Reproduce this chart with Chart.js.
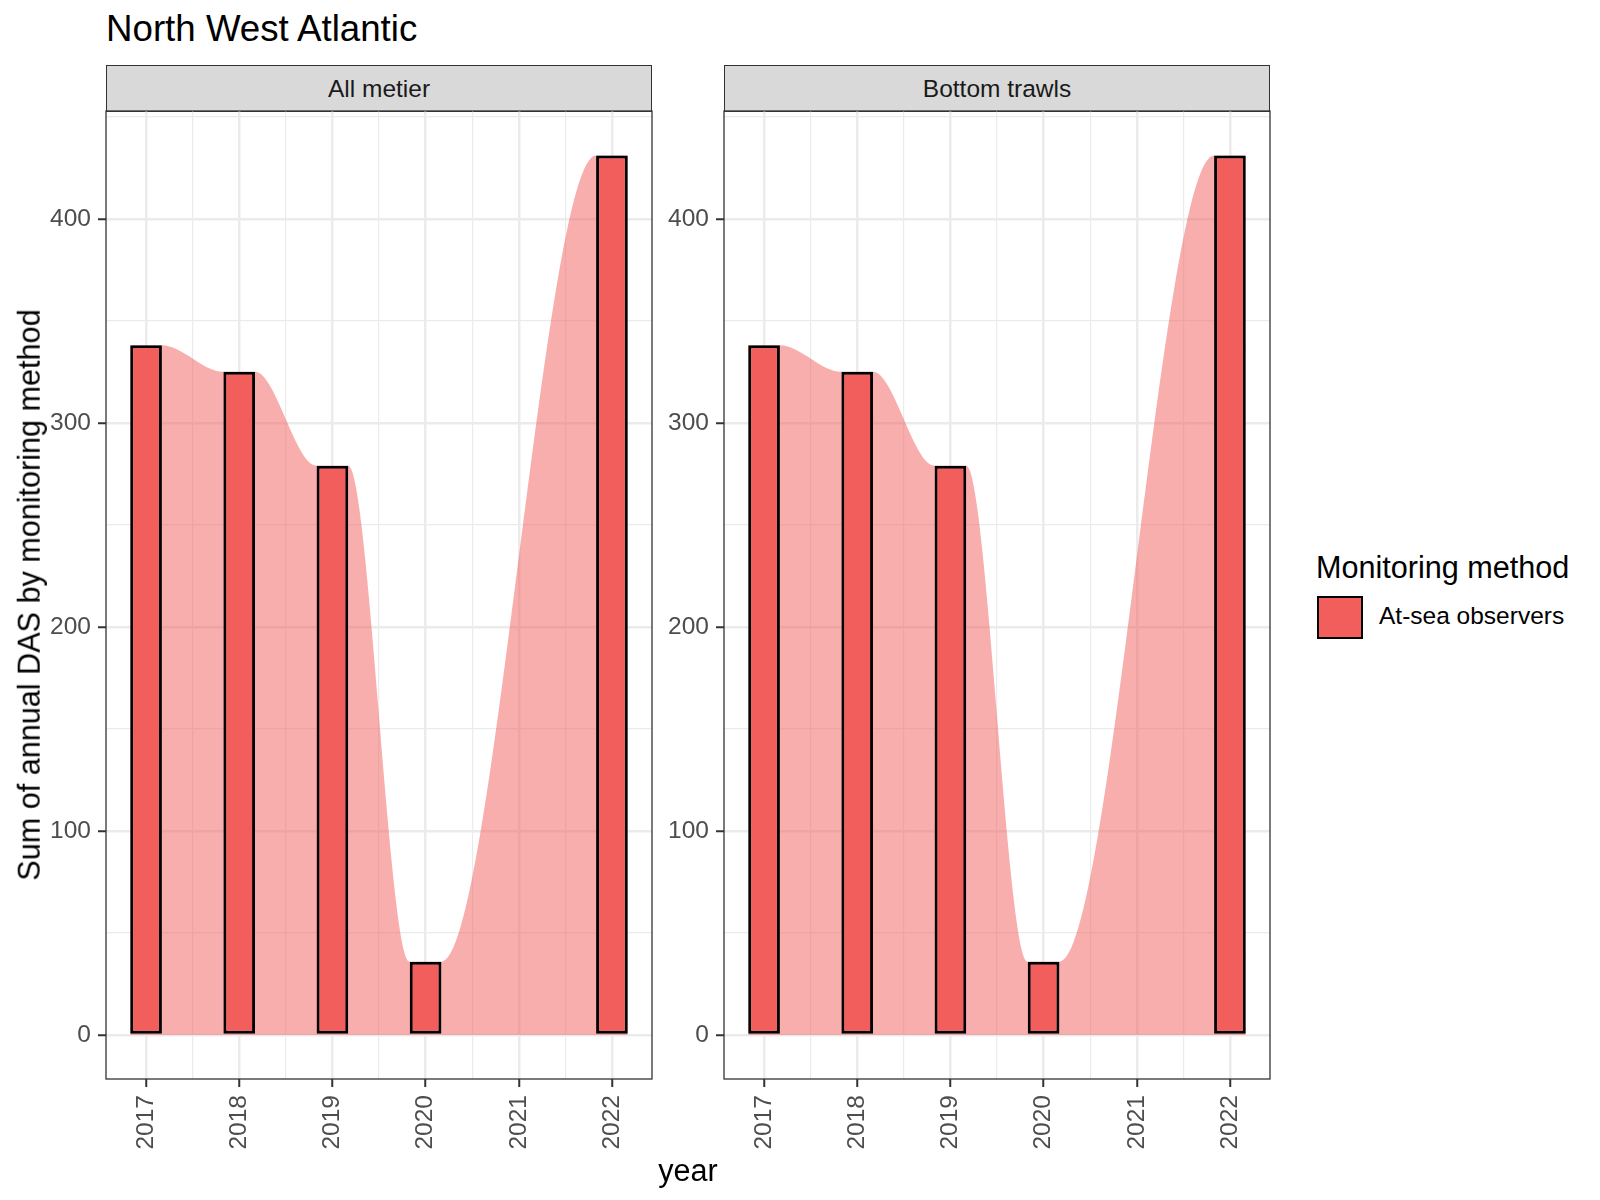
<!DOCTYPE html>
<html>
<head>
<meta charset="utf-8">
<script src="https://cdn.jsdelivr.net/npm/chart.js@4.4.1/dist/chart.umd.min.js"></script>
<style>
  body { margin: 0; background: #fff; font-family: "Liberation Sans", Arial, sans-serif; }
  #page { position: relative; width: 1600px; height: 1200px; overflow: hidden; background: #fff; }
  .abs { position: absolute; white-space: nowrap; line-height: 1; }
  .strip { position: absolute; box-sizing: border-box; background: #D9D9D9; border: 1.3px solid #333;
           color: #1A1A1A; font-size: 24.5px; display: flex; align-items: center; justify-content: center; }
  canvas { position: absolute; }
</style>
</head>
<body>
<div id="page">
  <div class="abs" style="left:106px;top:11px;font-size:36.7px;color:#000;">North West Atlantic</div>

  <div class="strip" style="left:106px;top:65px;width:546px;height:47px;">All metier</div>
  <div class="strip" style="left:724px;top:65px;width:546px;height:47px;">Bottom trawls</div>

  <canvas id="panel1" width="630" height="1090" style="left:30px;top:100px;"></canvas>
  <canvas id="panel2" width="630" height="1090" style="left:648px;top:100px;"></canvas>

  <div class="abs" style="left:28.6px;top:595px;font-size:30.6px;transform:translate(-50%,-50%) rotate(-90deg);">Sum of annual DAS by monitoring method</div>
  <div class="abs" style="left:688px;top:1170px;font-size:30.6px;transform:translate(-50%,-50%);">year</div>

  <!-- legend -->
  <div class="abs" style="left:1316px;top:552px;font-size:30.6px;">Monitoring method</div>
  <div class="abs" style="left:1317px;top:596px;width:46px;height:43px;box-sizing:border-box;background:#F25E5B;border:2.5px solid #000;"></div>
  <div class="abs" style="left:1379px;top:604px;font-size:24.5px;">At-sea observers</div>
</div>

<script>
// data
const years = [2017, 2018, 2019, 2020, 2022];
const allMetierDas = [338, 325, 279, 36, 431];
const bottomTrawlsDas = [338, 325, 279, 36, 431];

const yearTicks = [2017, 2018, 2019, 2020, 2021, 2022];
const yearMinorTicks = [2017.5, 2018.5, 2019.5, 2020.5, 2021.5];
const dasTicks = [0, 50, 100, 150, 200, 250, 300, 350, 400, 450];

const BAR_W = 0.34;
const X_MIN = 2016.57, X_MAX = 2022.43;
const Y_MIN = -21.5, Y_MAX = 452.8;

const FONT = '"Liberation Sans", Arial, sans-serif';
const BAR_COL = '#F25E5B';
const AREA_COL = 'rgba(242,94,91,0.5)';
const GRID = '#EBEBEB';

// smooth area runs from bar edge to bar edge
function edgePoints(xs, vs) {
  const pts = [];
  xs.forEach((x, i) => {
    pts.push({ x: x - BAR_W / 2, y: vs[i] });
    pts.push({ x: x + BAR_W / 2, y: vs[i] });
  });
  return pts;
}

const panelBorder = {
  id: 'panelBorder',
  afterDraw(chart) {
    const { ctx, chartArea: a } = chart;
    ctx.save();
    ctx.strokeStyle = '#333333';
    ctx.lineWidth = 1.3;
    ctx.strokeRect(a.left, a.top, a.right - a.left, a.bottom - a.top);
    ctx.restore();
  }
};

function noPad(s) { s.paddingTop = 0; s.paddingBottom = 0; s.paddingLeft = 0; s.paddingRight = 0; }

function makePanel(id, values) {
  new Chart(document.getElementById(id), {
    type: 'bar',
    data: {
      datasets: [
        {
          type: 'bar',
          data: years.map((x, i) => ({ x: x, y: values[i] })),
          xAxisID: 'x',
          backgroundColor: BAR_COL,
          borderColor: '#000',
          borderWidth: 3,
          borderSkipped: false,
          grouped: false,
          barPercentage: BAR_W,
          categoryPercentage: 1,
          order: 0
        },
        {
          type: 'line',
          data: edgePoints(years, values),
          xAxisID: 'xa',
          fill: 'origin',
          backgroundColor: AREA_COL,
          borderWidth: 0,
          pointRadius: 0,
          cubicInterpolationMode: 'monotone',
          order: 1
        }
      ]
    },
    options: {
      responsive: false,
      animation: false,
      events: [],
      layout: { padding: { top: 11, right: 8, bottom: 0, left: 0 } },
      plugins: { legend: { display: false }, tooltip: { enabled: false } },
      scales: {
        x: {
          type: 'linear', position: 'bottom', min: X_MIN, max: X_MAX, offset: false,
          afterBuildTicks: s => { s.ticks = yearTicks.map(v => ({ value: v })); },
          afterFit: s => { s.height = 111; noPad(s); },
          ticks: {
            autoSkip: false, minRotation: 90, maxRotation: 90, padding: 8,
            color: '#4D4D4D', font: { family: FONT, size: 24.5 },
            callback: v => String(v)
          },
          grid: { offset: false, color: GRID, lineWidth: 2.5, tickLength: 8, tickColor: '#333333', tickWidth: 2 },
          border: { display: false }
        },
        xa: {
          type: 'linear', position: 'bottom', min: X_MIN, max: X_MAX, offset: false,
          afterBuildTicks: s => { s.ticks = yearMinorTicks.map(v => ({ value: v })); },
          afterFit: s => { s.height = 0; noPad(s); },
          ticks: { display: false, autoSkip: false },
          grid: { offset: false, color: GRID, lineWidth: 1.2, drawTicks: false },
          border: { display: false }
        },
        y: {
          type: 'linear', position: 'left', min: Y_MIN, max: Y_MAX,
          afterBuildTicks: s => { s.ticks = dasTicks.map(v => ({ value: v })); },
          afterFit: s => { s.width = 76; noPad(s); },
          ticks: {
            autoSkip: false, padding: 7,
            color: '#4D4D4D', font: { family: FONT, size: 24.5 },
            callback: v => (v % 100 === 0 ? String(v) : '')
          },
          grid: {
            color: GRID,
            lineWidth: c => (c.tick && c.tick.value % 100 === 0 ? 2.5 : 1.2),
            tickLength: 8,
            tickColor: c => (c.tick && c.tick.value % 100 === 0 ? '#333333' : 'rgba(0,0,0,0)'),
            tickWidth: 2
          },
          border: { display: false }
        }
      }
    },
    plugins: [panelBorder]
  });
}

makePanel('panel1', allMetierDas);
makePanel('panel2', bottomTrawlsDas);
</script>
</body>
</html>
